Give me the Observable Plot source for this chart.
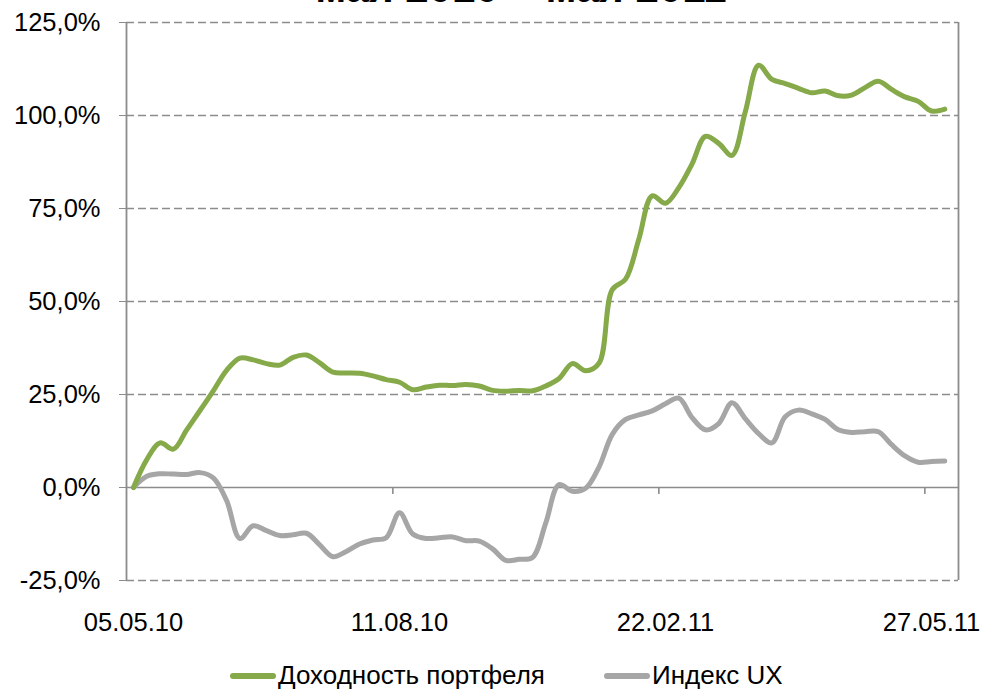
<!DOCTYPE html>
<html>
<head>
<meta charset="utf-8">
<script src="https://cdn.jsdelivr.net/npm/d3@7"></script>
<script src="https://cdn.jsdelivr.net/npm/@observablehq/plot@0.6"></script>
<style>
  body { margin: 0; background: #fff; font-family: "Liberation Sans", Arial, sans-serif; }
  #wrap { position: relative; width: 983px; height: 691px; overflow: hidden; background: #fff; }
  #chart { position: absolute; left: 0; top: 0; }
  #title { position: absolute; left: 521px; top: -33px; transform: translateX(-50%);
           font-weight: bold; font-size: 42px; line-height: 42px; white-space: nowrap; color: #000; }
  .legend { position: absolute; top: 661px; display: flex; align-items: center;
            font-size: 26px; line-height: 29px; color: #000; white-space: nowrap; }
  .sw { display: inline-block; width: 46px; height: 6px; border-radius: 3px; margin-right: 2px; }
</style>
</head>
<body>
<div id="wrap">
  <div id="chart"></div>
  <div id="title">мая 2010 – мая 2011</div>
  <div class="legend" style="left:230px"><span class="sw" style="background:#86A94A"></span>Доходность портфеля</div>
  <div class="legend" style="left:604px"><span class="sw" style="background:#A6A6A6"></span>Индекс UX</div>
</div>
<script>
// Tick labels (category axis) and their category positions
const xLabels = ["05.05.10", "11.08.10", "22.02.11", "27.05.11"];
const xLabelIdx = [0, 20, 40, 60];
const xTickBoundaries = [19.5, 39.5, 59.5];
const yTicks = [-25, 0, 25, 50, 75, 100, 125];

// Series values, %
const portfolio = [
  0, 7.5, 12.0, 10.3, 15.5, 20.7, 26.0, 31.5, 34.8, 34.3,
  33.3, 32.9, 35.0, 35.6, 33.5, 31.0, 30.8, 30.7, 30.0, 29.0,
  28.3, 26.3, 27.0, 27.5, 27.4, 27.7, 27.3, 26.1, 25.9, 26.1,
  26.0, 27.3, 29.3, 33.3, 31.4, 33.4, 53.2, 56.0, 66.8, 78.4,
  76.4, 80.6, 87.0, 94.4, 92.5, 89.3, 101.0, 113.5, 109.7, 108.6,
  107.3, 106.1, 106.6, 105.3, 105.5, 107.5, 109.2, 107.0, 105.0, 103.8,
  101.2, 101.7
];
const ux = [
  0, 3.0, 3.7, 3.6, 3.5, 4.0, 2.6, -3.5, -13.7, -10.3,
  -11.6, -12.9, -12.7, -12.3, -15.4, -18.6, -17.2, -15.2, -14.1, -13.5,
  -6.8, -12.5, -13.7, -13.5, -13.3, -14.3, -14.4, -16.5, -19.6, -19.3,
  -18.8, -9.5, 0.8, -1.0, -0.2, 5.5, 14.3, 18.3, 19.5, 20.6,
  22.5, 24.0, 18.8, 15.5, 17.2, 22.8, 18.5, 14.5, 12.0, 19.0,
  20.8, 19.8, 18.3, 15.5, 14.8, 15.0, 15.0, 11.5, 8.5, 6.8,
  7.0, 7.1
];

const idx = d3.range(portfolio.length);
const xDomain = [-0.526, 62.03];
const fmt = v => v.toFixed(1).replace(".", ",") + "%";
const grid = "#8c8c8c";

const chart = Plot.plot({
  width: 983,
  height: 640,
  marginLeft: 126,
  marginRight: 25,
  marginTop: 22,
  marginBottom: 60,
  style: { fontFamily: '"Liberation Sans", Arial, sans-serif', fontSize: "25.5px", color: "#000", background: "transparent" },
  x: { domain: xDomain },
  y: { domain: [-25, 125] },
  marks: [
    Plot.ruleY(yTicks.filter(d => d !== 0), { stroke: grid, strokeWidth: 1.3, strokeDasharray: "8,4" }),
    Plot.ruleX(xDomain, { stroke: grid, strokeWidth: 1.8 }),
    Plot.ruleY([0], { stroke: grid, strokeWidth: 1.6 }),
    Plot.ruleX(xTickBoundaries, { y1: 0, y2: 0, insetBottom: -7, stroke: grid, strokeWidth: 1.6 }),
    Plot.axisY({ ticks: yTicks, tickSize: 7, tickPadding: 19, tickFormat: fmt, stroke: grid, fill: "#000" }),
    Plot.axisX({ ticks: xLabelIdx, tickSize: 0, tickPadding: 32, tickFormat: d => xLabels[xLabelIdx.indexOf(d)], fill: "#000" }),
    Plot.line(idx, { x: i => i, y: i => ux[i], stroke: "#A6A6A6", strokeWidth: 5, curve: "catmull-rom", strokeLinecap: "round" }),
    Plot.line(idx, { x: i => i, y: i => portfolio[i], stroke: "#86A94A", strokeWidth: 5, curve: "catmull-rom", strokeLinecap: "round" })
  ]
});
document.getElementById("chart").appendChild(chart);
</script>
</body>
</html>
